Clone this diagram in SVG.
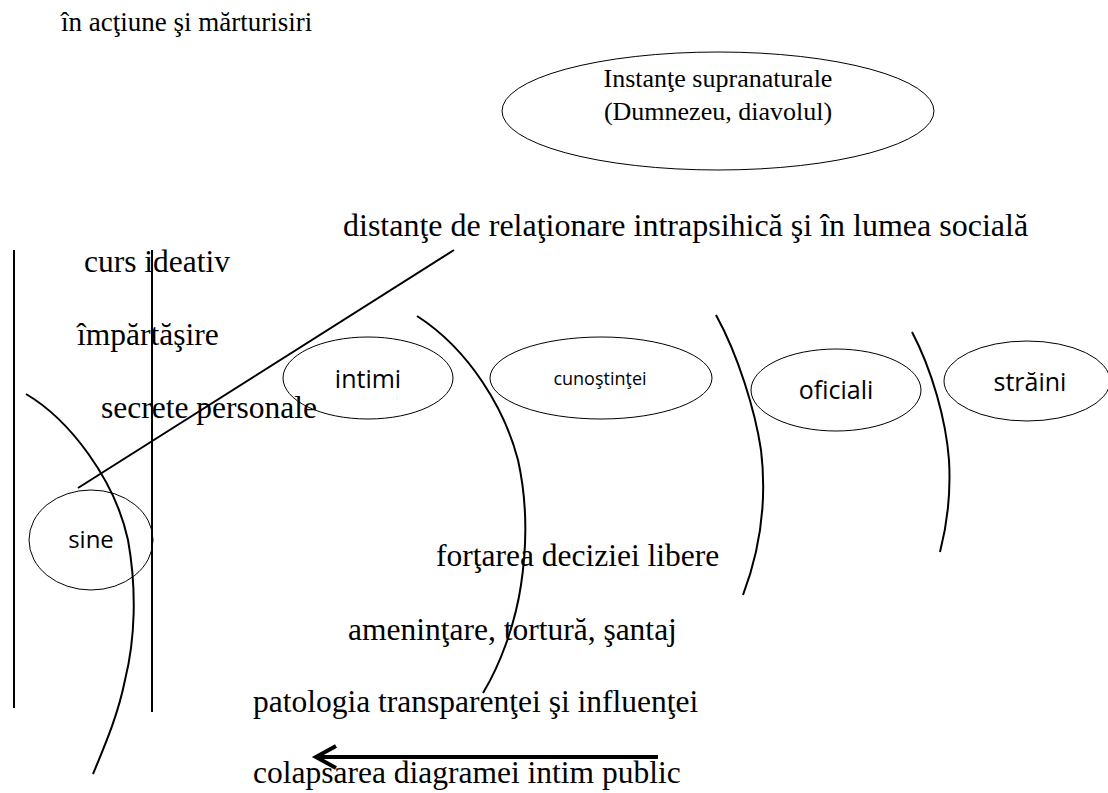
<svg xmlns="http://www.w3.org/2000/svg" width="1108" height="793" viewBox="0 0 1108 793">
<style>
.t{font-family:"Liberation Serif","Times New Roman",serif;font-size:31.5px;fill:#000}
.s{font-family:"Open Sans","Noto Sans",sans-serif;fill:#000;text-anchor:middle}
.e{fill:none;stroke:#000;stroke-width:1}
.l{fill:none;stroke:#000;stroke-width:2}
</style>
<rect width="1108" height="793" fill="#fff"/>
<text class="t" x="61" y="31" style="font-size:27px">în acţiune şi mărturisiri</text>
<g id="supranatural">
<ellipse class="e" cx="718" cy="111" rx="216" ry="59"/>
<text class="t" x="718" y="87" text-anchor="middle" style="font-size:26px">Instanţe supranaturale</text>
<text class="t" x="718" y="120" text-anchor="middle" style="font-size:26px">(Dumnezeu, diavolul)</text>
</g>
<text class="t" x="343" y="236" style="font-size:32px">distanţe de relaţionare intrapsihică şi în lumea socială</text>
<text class="t" x="84" y="272">curs ideativ</text>
<text class="t" x="77" y="345">împărtăşire</text>
<text class="t" x="101" y="418">secrete personale</text>
<text class="t" x="436" y="566">forţarea deciziei libere</text>
<text class="t" x="348" y="640">ameninţare, tortură, şantaj</text>
<text class="t" x="253" y="712">patologia transparenţei şi influenţei</text>
<text class="t" x="253" y="783">colapsarea diagramei intim public</text>
<g id="sine">
<ellipse class="e" cx="91" cy="540" rx="62" ry="50"/>
<text class="s" x="91" y="548" font-size="24">sine</text>
</g>
<g id="intimi">
<ellipse class="e" cx="368" cy="378" rx="85" ry="41"/>
<text class="s" x="368" y="388" font-size="25">intimi</text>
</g>
<g id="cunostintei">
<ellipse class="e" cx="601" cy="378" rx="111" ry="41"/>
<text class="s" x="600" y="385" font-size="18">cunoştinţei</text>
</g>
<g id="oficiali">
<ellipse class="e" cx="836" cy="390" rx="85" ry="41"/>
<text class="s" x="836" y="399" font-size="25">oficiali</text>
</g>
<g id="straini">
<ellipse class="e" cx="1027" cy="381" rx="83" ry="40"/>
<text class="s" x="1030" y="391" font-size="25">străini</text>
</g>
<g id="connectors">
<line class="l" x1="14" y1="250" x2="14" y2="708"/>
<line class="l" x1="152" y1="250" x2="152" y2="712"/>
<line class="l" x1="78" y1="488" x2="454" y2="250"/>
<path class="l" d="M26,394 C70,420 115,480 128,540 C137,590 135,640 125,680 C118,715 105,745 93,774"/>
<path class="l" d="M417,316 C470,350 505,410 518,460 C528,505 527,545 521,585 C515,625 500,665 483,693"/>
<path class="l" d="M716,315 C738,355 755,410 761,450 C767,500 760,550 743,595"/>
<path class="l" d="M912,332 C932,370 946,420 949,460 C951,495 947,525 940,552"/>
<line x1="658" y1="757" x2="318" y2="757" stroke="#000" stroke-width="4"/>
<polyline points="336,746 316,757 336,768" fill="none" stroke="#000" stroke-width="4"/>
</g>
</svg>
